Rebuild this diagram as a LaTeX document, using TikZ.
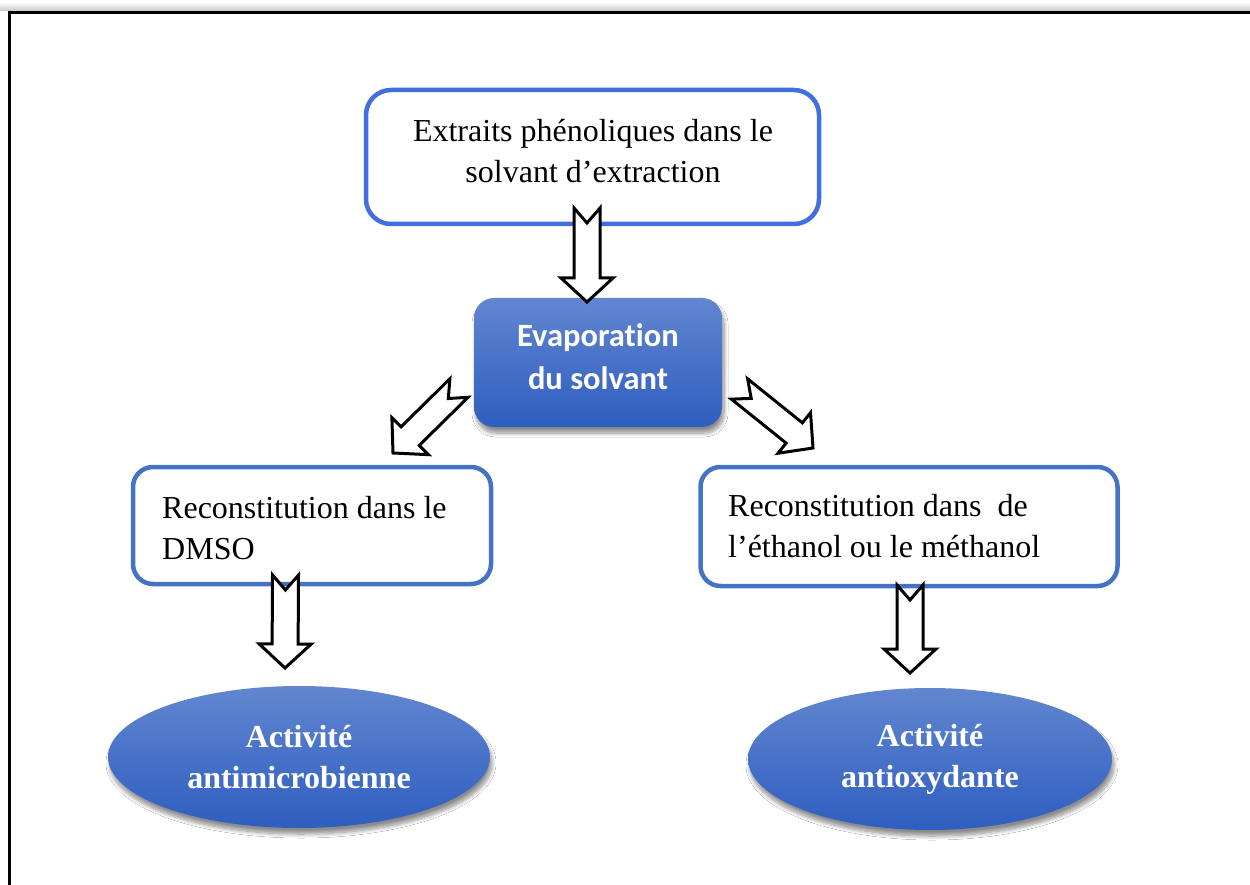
\documentclass[tikz,border=0pt]{standalone}
\usepackage{fontspec}
\setmainfont{Liberation Serif}
\newfontfamily\calibri[RawFeature=-liga]{Carlito}
\usetikzlibrary{calc,shadows.blur,shapes.geometric}

\definecolor{edgeblueA}{RGB}{66,110,226}
\definecolor{edgeblueB}{RGB}{68,114,196}
\definecolor{fillTop}{RGB}{98,134,208}
\definecolor{fillBot}{RGB}{46,94,192}

% hollow notched block arrow from #1 (tail centre) to #2 (tip)
\newcommand\notcharrow[2]{%
  \draw[hollowarrow] let \p1=($(#2)-(#1)$),
      \n1={atan2(\y1,\x1)}, \n2={veclen(\x1,\y1)},
      \n3={\n2-24}, \n4={\n1+90}, \n5={\n1-90} in
    ($(#1)+(\n4:13pt)$)
    -- ($(#1)+(\n1:\n3)+(\n4:13pt)$)
    -- ($(#1)+(\n1:\n3)+(\n4:26pt)$)
    -- (#2)
    -- ($(#1)+(\n1:\n3)+(\n5:26pt)$)
    -- ($(#1)+(\n1:\n3)+(\n5:13pt)$)
    -- ($(#1)+(\n5:13pt)$)
    -- ($(#1)+(\n1:15pt)$)
    -- cycle;}

\tikzset{
  whitebox/.style={draw=edgeblueB, line width=4.5pt, fill=white,
    rounded corners=20pt, inner sep=0pt},
  boxtext/.style={font=\fontsize{32}{41}\selectfont, inner sep=0pt},
  softshadow/.style={blur shadow={shadow xshift=2pt, shadow yshift=-6pt,
      shadow blur steps=10, shadow blur radius=4pt, shadow opacity=45}},
  bluebox/.style={rounded corners=20pt, top color=fillTop, bottom color=fillBot,
    inner sep=0pt, softshadow},
  blueoval/.style={ellipse, top color=fillTop, bottom color=fillBot,
    text=white, inner sep=0pt, align=center,
    font=\fontsize{32}{41}\selectfont\bfseries, softshadow},
  hollowarrow/.style={draw=black, line width=3pt, fill=white, line join=miter}
}

\begin{document}
\begin{tikzpicture}[x=1pt, y=-1pt]
  \useasboundingbox (0,0) rectangle (1250,885);
  \fill[white] (0,0) rectangle (1250,885);

  % page frame with its soft shade along the top
  \shade[top color=white, bottom color=black!22] (0,2) rectangle (1250,11);
  \draw[line width=3pt, line cap=rect] (9.5,885) -- (9.5,12.5) -- (1250,12.5);

  % boxes
  \node[whitebox, draw=edgeblueA, rounded corners=25pt,
        minimum width=453pt, minimum height=134pt] (extr) at (592.5,157) {};
  \node[boxtext, align=center] at (593,151)
       {Extraits phénoliques dans le\\solvant d’extraction};

  \node[bluebox, minimum width=248pt, minimum height=129pt] (evap) at (598,362.5) {};
  \node[text=white, font=\calibri\bfseries\fontsize{32.5}{43}\selectfont,
        align=center, inner sep=0pt] at (598,357) {Evaporation\\du solvant};

  \node[whitebox, minimum width=358pt, minimum height=117pt] (dmso) at (312,525.5) {};
  \node[boxtext, align=left, anchor=west] at (162,528)
       {Reconstitution dans le\\DMSO};

  \node[whitebox, minimum width=417pt, minimum height=119pt] (etoh) at (909,526.5) {};
  \node[boxtext, align=left, anchor=west] at (728,526)
       {Reconstitution dans\ \ de\\l’éthanol ou le méthanol};

  \node[blueoval, minimum width=382pt, minimum height=142pt] (amic) at (299,757)
       {Activité\\antimicrobienne};
  \node[blueoval, minimum width=364pt, minimum height=142pt] (aox) at (930,759)
       {Activité\\antioxydante};

  % block arrows between the stages
  \coordinate (t1) at (587,208);   \coordinate (h1) at (587,302);
  \coordinate (t2) at (459,388);   \coordinate (h2) at (393,453);
  \coordinate (t3) at (739.5,389); \coordinate (h3) at (813,448);
  \coordinate (t4) at (285.5,575); \coordinate (h4) at (285,668);
  \coordinate (t5) at (910,585);   \coordinate (h5) at (910,673);
  \notcharrow{t1}{h1}
  \notcharrow{t2}{h2}
  \notcharrow{t3}{h3}
  \notcharrow{t4}{h4}
  \notcharrow{t5}{h5}
\end{tikzpicture}
\end{document}
